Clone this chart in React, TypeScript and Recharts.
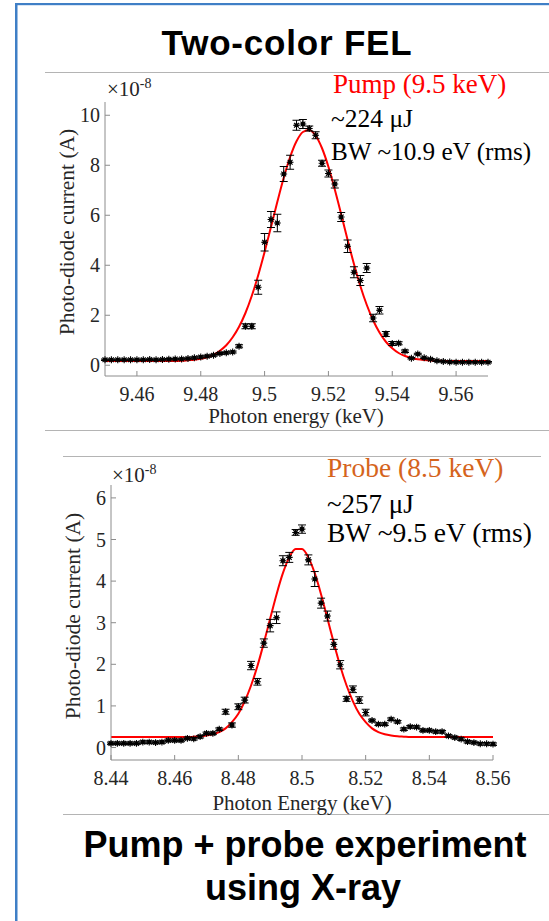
import React from 'react';
import { ComposedChart, Line, Scatter, ErrorBar, XAxis, YAxis } from 'recharts';

const SERIF = '"Liberation Serif", "Times New Roman", serif';
const SANS = '"Liberation Sans", Arial, sans-serif';
const AXIS_GRAY = '#8c8c8c';
const TEXT_DARK = '#262626';

// pump scan, 9.5 keV (values in units of 1e-8 A)
const pumpEnergy = [
  9.450, 9.452, 9.454, 9.456, 9.458, 9.460, 9.462, 9.464, 9.466, 9.468,
  9.470, 9.472, 9.474, 9.476, 9.478, 9.480, 9.482, 9.484, 9.486, 9.488,
  9.490, 9.492, 9.494, 9.496, 9.498, 9.500, 9.502, 9.504, 9.506, 9.508,
  9.510, 9.512, 9.514, 9.516, 9.518, 9.520, 9.522, 9.524, 9.526, 9.528,
  9.530, 9.532, 9.534, 9.536, 9.538, 9.540, 9.542, 9.544, 9.546, 9.548,
  9.550, 9.552, 9.554, 9.556, 9.558, 9.560, 9.562, 9.564, 9.566, 9.568,
  9.570,
];
const pumpCurrent = [
  0.22, 0.22, 0.22, 0.22, 0.22, 0.22, 0.22, 0.23, 0.22, 0.23,
  0.24, 0.25, 0.25, 0.27, 0.3, 0.33, 0.36, 0.4, 0.47, 0.5,
  0.53, 0.76, 1.56, 1.56, 3.12, 4.92, 5.83, 5.69, 7.65, 8.12,
  9.6, 9.65, 9.47, 9.2, 8.08, 7.67, 7.25, 5.93, 4.76, 3.72,
  3.39, 3.89, 1.89, 2.2, 1.25, 0.87, 0.88, 0.56, 0.28, 0.45,
  0.3, 0.24, 0.18, 0.15, 0.13, 0.12, 0.12, 0.12, 0.12, 0.12,
  0.12,
];
const pumpError = [
  0.03, 0.03, 0.03, 0.03, 0.03, 0.03, 0.03, 0.03, 0.03, 0.03,
  0.03, 0.03, 0.03, 0.03, 0.04, 0.04, 0.04, 0.04, 0.04, 0.04,
  0.04, 0.06, 0.1, 0.1, 0.28, 0.35, 0.32, 0.35, 0.3, 0.28,
  0.2, 0.18, 0.1, 0.14, 0.12, 0.14, 0.16, 0.18, 0.25, 0.22,
  0.2, 0.18, 0.15, 0.15, 0.1, 0.08, 0.06, 0.05, 0.03, 0.03,
  0.03, 0.03, 0.03, 0.03, 0.03, 0.03, 0.03, 0.03, 0.03, 0.03,
  0.03,
];
const pumpFit = [
  0.17, 0.17, 0.17, 0.17, 0.17, 0.17, 0.17, 0.17, 0.17, 0.17,
  0.17, 0.17, 0.18, 0.2, 0.22, 0.26, 0.32, 0.42, 0.58, 0.8,
  1.12, 1.54, 2.09, 2.78, 3.6, 4.53, 5.53, 6.54, 7.5, 8.33,
  8.96, 9.33, 9.41, 9.18, 8.68, 7.94, 7.03, 6.04, 5.02, 4.05,
  3.17, 2.42, 1.8, 1.31, 0.94, 0.68, 0.49, 0.37, 0.29, 0.24,
  0.21, 0.19, 0.18, 0.17, 0.17, 0.17, 0.17, 0.17, 0.17, 0.17,
  0.17,
];
const pumpXTicks = [9.46, 9.48, 9.5, 9.52, 9.54, 9.56];
const pumpYTicks = [0, 2, 4, 6, 8, 10];

// probe scan, 8.5 keV
const probeEnergy = [
  8.440, 8.442, 8.444, 8.446, 8.448, 8.450, 8.452, 8.454, 8.456, 8.458,
  8.460, 8.462, 8.464, 8.466, 8.468, 8.470, 8.472, 8.474, 8.476, 8.478,
  8.480, 8.482, 8.484, 8.486, 8.488, 8.490, 8.492, 8.494, 8.496, 8.498,
  8.500, 8.502, 8.504, 8.506, 8.508, 8.510, 8.512, 8.514, 8.516, 8.518,
  8.520, 8.522, 8.524, 8.526, 8.528, 8.530, 8.532, 8.534, 8.536, 8.538,
  8.540, 8.542, 8.544, 8.546, 8.548, 8.550, 8.552, 8.554, 8.556, 8.558,
  8.560,
];
const probeCurrent = [
  0.1, 0.1, 0.1, 0.1, 0.1, 0.13, 0.13, 0.12, 0.13, 0.17,
  0.17, 0.17, 0.22, 0.21, 0.26, 0.34, 0.34, 0.44, 0.86, 0.54,
  0.98, 1.14, 1.97, 1.58, 2.51, 2.93, 3.12, 4.49, 4.57, 5.17,
  5.25, 4.51, 4.05, 3.47, 3.16, 2.48, 1.99, 1.17, 1.4, 1.14,
  0.84, 0.65, 0.56, 0.56, 0.68, 0.62, 0.44, 0.5, 0.49, 0.41,
  0.41, 0.38, 0.38, 0.28, 0.24, 0.2, 0.14, 0.12, 0.09, 0.09,
  0.08,
];
const probeError = [
  0.03, 0.03, 0.03, 0.03, 0.03, 0.03, 0.03, 0.03, 0.03, 0.03,
  0.03, 0.03, 0.03, 0.03, 0.03, 0.03, 0.03, 0.03, 0.06, 0.05,
  0.07, 0.07, 0.1, 0.08, 0.1, 0.15, 0.14, 0.12, 0.12, 0.07,
  0.1, 0.12, 0.18, 0.12, 0.12, 0.12, 0.1, 0.06, 0.08, 0.08,
  0.08, 0.03, 0.03, 0.03, 0.03, 0.03, 0.03, 0.03, 0.03, 0.03,
  0.03, 0.03, 0.03, 0.03, 0.03, 0.03, 0.03, 0.03, 0.03, 0.03,
  0.03,
];
const probeFit = [
  0.25, 0.25, 0.25, 0.25, 0.25, 0.25, 0.25, 0.25, 0.25, 0.25,
  0.25, 0.25, 0.25, 0.26, 0.27, 0.29, 0.32, 0.37, 0.46, 0.61,
  0.81, 1.11, 1.49, 1.96, 2.51, 3.1, 3.68, 4.19, 4.57, 4.77,
  4.77, 4.57, 4.19, 3.68, 3.1, 2.51, 1.96, 1.49, 1.11, 0.81,
  0.61, 0.46, 0.37, 0.32, 0.29, 0.27, 0.26, 0.25, 0.25, 0.25,
  0.25, 0.25, 0.25, 0.25, 0.25, 0.25, 0.25, 0.25, 0.25, 0.25,
  0.25,
];
const probeXTicks = [8.44, 8.46, 8.48, 8.5, 8.52, 8.54, 8.56];
const probeYTicks = [0, 1, 2, 3, 4, 5, 6];

const pumpRows = pumpEnergy.map((e, i) => ({ e, v: pumpCurrent[i], err: pumpError[i], fit: pumpFit[i] }));
const probeRows = probeEnergy.map((e, i) => ({ e, v: probeCurrent[i], err: probeError[i], fit: probeFit[i] }));

// matlab-ish '*' marker
const Star = (props: any) => {
  const { cx, cy } = props;
  if (cx == null || cy == null) return null;
  const r = 3.4;
  const d = r * 0.72;
  return (
    <g>
      <circle cx={cx} cy={cy} r={2.1} fill="#000" />
      <path
        d={`M${cx - r},${cy}H${cx + r}M${cx},${cy - r}V${cy + r}M${cx - d},${cy - d}L${cx + d},${cy + d}M${cx - d},${cy + d}L${cx + d},${cy - d}`}
        stroke="#000"
        strokeWidth={1.1}
      />
    </g>
  );
};

const tickFont = { fill: TEXT_DARK, fontSize: 20, fontFamily: SERIF };
const blank = () => '';

interface PanelProps {
  top: number;
  height: number;
  box: { left: number; top: number; right: number; bottom: number };
  rows: { e: number; v: number; err: number; fit: number }[];
  xDomain: [number, number];
  yDomain: [number, number];
  xTicks: number[];
  yTicks: number[];
}

const Panel: React.FC<PanelProps> = ({ top, height, box, rows, xDomain, yDomain, xTicks, yTicks }) => {
  const yW = 40;
  const xH = 30;
  const margin = {
    top: box.top - top,
    left: box.left - yW,
    right: 549 - box.right,
    bottom: top + height - box.bottom - xH,
  };
  return (
    <div style={{ position: 'absolute', left: 0, top, width: 549, height }}>
      <ComposedChart width={549} height={height} data={rows} margin={margin}>
        <XAxis
          xAxisId="b"
          type="number"
          dataKey="e"
          domain={xDomain}
          ticks={xTicks}
          interval={0}
          height={xH}
          stroke={AXIS_GRAY}
          tickSize={-5}
          tickMargin={16}
          tick={tickFont}
        />
        <XAxis
          xAxisId="t"
          orientation="top"
          type="number"
          dataKey="e"
          domain={xDomain}
          ticks={xTicks}
          interval={0}
          height={0}
          stroke={AXIS_GRAY}
          tickSize={-5}
          tickFormatter={blank}
        />
        <YAxis
          yAxisId="l"
          type="number"
          domain={yDomain}
          ticks={yTicks}
          interval={0}
          width={yW}
          stroke={AXIS_GRAY}
          tickSize={-5}
          tickMargin={10}
          tick={tickFont}
        />
        <YAxis
          yAxisId="r"
          orientation="right"
          type="number"
          domain={yDomain}
          ticks={yTicks}
          interval={0}
          width={0}
          stroke={AXIS_GRAY}
          tickSize={-5}
          tickFormatter={blank}
        />
        <Line
          xAxisId="b"
          yAxisId="l"
          type="monotone"
          dataKey="fit"
          stroke="#ff0000"
          strokeWidth={2}
          dot={false}
          isAnimationActive={false}
        />
        <Scatter xAxisId="b" yAxisId="l" dataKey="v" shape={Star} isAnimationActive={false}>
          <ErrorBar dataKey="err" direction="y" width={4} stroke="#000" strokeWidth={1} isAnimationActive={false} />
        </Scatter>
      </ComposedChart>
    </div>
  );
};

export default function App() {
  return (
    <div style={{ position: 'absolute', left: 0, top: 0, width: 549, height: 921, background: '#fff', overflow: 'hidden' }}>
      <Panel
        top={0}
        height={440}
        box={{ left: 105, top: 102, right: 488, bottom: 376 }}
        rows={pumpRows}
        xDomain={[9.45, 9.57]}
        yDomain={[-0.43, 10.53]}
        xTicks={pumpXTicks}
        yTicks={pumpYTicks}
      />
      <Panel
        top={445}
        height={370}
        box={{ left: 111, top: 485, right: 493, bottom: 760 }}
        rows={probeRows}
        xDomain={[8.44, 8.56]}
        yDomain={[-0.3, 6.31]}
        xTicks={probeXTicks}
        yTicks={probeYTicks}
      />
      <svg width={549} height={921} style={{ position: 'absolute', left: 0, top: 0, pointerEvents: 'none' }}>
        {/* slide frame */}
        <rect x={15} y={3} width={2.5} height={918} fill="#3f7fc6" />
        <rect x={15} y={3} width={534} height={2.2} fill="#3f7fc6" />
        {/* separators */}
        <line x1={45} y1={72.5} x2={549} y2={72.5} stroke="#b4b4b4" strokeWidth={1} />
        <line x1={45} y1={430.5} x2={549} y2={430.5} stroke="#b4b4b4" strokeWidth={1} />
        <line x1={63} y1={456.5} x2={541} y2={456.5} stroke="#b4b4b4" strokeWidth={1} />
        <line x1={63} y1={814.5} x2={549} y2={814.5} stroke="#b4b4b4" strokeWidth={1} />

        <text x={287} y={55} textAnchor="middle" fontFamily={SANS} fontWeight="bold" fontSize={35} letterSpacing={0.8} fill="#000">
          Two-color FEL
        </text>

        {/* pump panel text */}
        <text x={107} y={96} fontFamily={SERIF} fontSize={21} fill={TEXT_DARK}>
          ×10<tspan dy={-8} fontSize={14}>-8</tspan>
        </text>
        <text x={333} y={93} fontFamily={SERIF} fontSize={27} fill="#ff0000">Pump (9.5 keV)</text>
        <text x={331} y={127} fontFamily={SERIF} fontSize={25.5} fill="#000">~224 μJ</text>
        <text x={331} y={160} fontFamily={SERIF} fontSize={25.2} fill="#000">BW ~10.9 eV (rms)</text>
        <text transform="translate(74,232) rotate(-90)" textAnchor="middle" fontFamily={SERIF} fontSize={21.5} fill={TEXT_DARK}>
          Photo-diode current (A)
        </text>
        <text x={296} y={423} textAnchor="middle" fontFamily={SERIF} fontSize={21} fill={TEXT_DARK}>
          Photon energy (keV)
        </text>

        {/* probe panel text */}
        <text x={112} y={482} fontFamily={SERIF} fontSize={21} fill={TEXT_DARK}>
          ×10<tspan dy={-8} fontSize={14}>-8</tspan>
        </text>
        <text x={327} y={477} fontFamily={SERIF} fontSize={27.5} fill="#d5641c">Probe (8.5 keV)</text>
        <text x={327} y={513} fontFamily={SERIF} fontSize={27} fill="#000">~257 μJ</text>
        <text x={327} y={542} fontFamily={SERIF} fontSize={27.5} fill="#000">BW ~9.5 eV (rms)</text>
        <text transform="translate(80,616) rotate(-90)" textAnchor="middle" fontFamily={SERIF} fontSize={21.5} fill={TEXT_DARK}>
          Photo-diode current (A)
        </text>
        <text x={302} y={810} textAnchor="middle" fontFamily={SERIF} fontSize={21} fill={TEXT_DARK}>
          Photon Energy (keV)
        </text>

        <text x={305} y={857} textAnchor="middle" fontFamily={SANS} fontWeight="bold" fontSize={36} fill="#000">
          Pump + probe experiment
        </text>
        <text x={303} y={900} textAnchor="middle" fontFamily={SANS} fontWeight="bold" fontSize={36} fill="#000">
          using X-ray
        </text>
      </svg>
    </div>
  );
}
